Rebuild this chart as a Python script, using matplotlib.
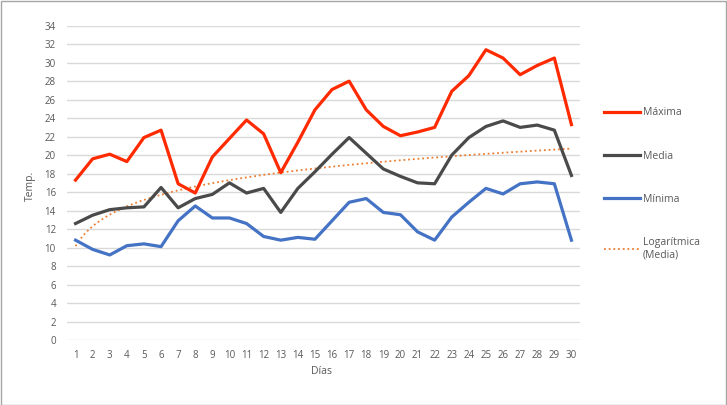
import numpy as np
import matplotlib
matplotlib.use("Agg")
import matplotlib.pyplot as plt
from matplotlib.patches import Rectangle

days = list(range(1, 31))
maxima = [17.3, 19.6, 20.1, 19.3, 21.9, 22.7, 16.9, 15.9, 19.8, 21.8,
          23.8, 22.3, 18.1, 21.4, 24.9, 27.1, 28.0, 24.9, 23.1, 22.1,
          22.5, 23.0, 26.9, 28.6, 31.4, 30.5, 28.7, 29.7, 30.5, 23.3]
media = [12.6, 13.5, 14.1, 14.3, 14.4, 16.5, 14.3, 15.3, 15.75, 17.0,
         15.9, 16.4, 13.8, 16.4, 18.2, 20.1, 21.9, 20.2, 18.5, 17.7,
         17.0, 16.9, 20.0, 21.9, 23.1, 23.7, 23.0, 23.25, 22.7, 17.8]
minima = [10.8, 9.8, 9.2, 10.2, 10.4, 10.1, 12.9, 14.5, 13.2, 13.2,
          12.6, 11.2, 10.8, 11.1, 10.9, 12.9, 14.9, 15.3, 13.8, 13.55,
          11.7, 10.8, 13.3, 14.9, 16.4, 15.8, 16.9, 17.1, 16.9, 10.8]
y_ticks = list(range(0, 35, 2))

plt.rcParams['font.family'] = ['Open Sans', 'DejaVu Sans']
txt = '#595959'

fig = plt.figure(figsize=(7.27, 4.05), dpi=100)
ax = fig.add_axes([67/727, 1-340/405, (580-67)/727, (340-25.7)/405])

x = np.array(days, dtype=float)
# logarithmic trendline fitted to Media
a, b = np.polyfit(np.log(x), np.array(media), 1)
xt = np.linspace(1, 30, 300)
trend = a*np.log(xt) + b

l1, = ax.plot(days, maxima, color='#FF2A00', lw=2.3, solid_joinstyle='round', label='Máxima', zorder=4)
l2, = ax.plot(days, media, color='#4A4A4A', lw=2.3, solid_joinstyle='round', label='Media', zorder=4)
l3, = ax.plot(days, minima, color='#4472C4', lw=2.3, solid_joinstyle='round', label='Mínima', zorder=4)
l4, = ax.plot(xt, trend, color='#ED7D31', lw=1.3, ls=(0, (1, 1.6)), label='Logarítmica\n(Media)', zorder=3)

ax.set_xlim(0.5, 30.5)
ax.set_ylim(0, 34)
ax.set_yticks(y_ticks)
ax.set_xticks(days)
ax.grid(axis='y', color='#D9D9D9', lw=1)
ax.set_axisbelow(True)
for s in ax.spines.values():
    s.set_visible(False)
ax.tick_params(axis='both', length=0, labelsize=7, labelcolor=txt)
ax.tick_params(axis='y', pad=8)
ax.tick_params(axis='x', pad=7)

fig.text(30/727, 1-186/405, 'Temp.', rotation=90, ha='center', va='center', fontsize=7.5, color=txt)
fig.text(322/727, 1-372/405, 'Días', ha='center', va='center', fontsize=7.5, color=txt)

leg = fig.legend(handles=[l1, l2, l3, l4], loc='upper left',
                 bbox_to_anchor=(595/727, 1-98/405), frameon=False,
                 fontsize=7.5, handlelength=3.4, handletextpad=0.3,
                 labelspacing=3.1, labelcolor=txt)

fig.patches.append(Rectangle((0.5/727, 0.5/405), 1-1.5/727, 1-1.5/405, transform=fig.transFigure,
                             fill=False, edgecolor='#A6A6A6', lw=1))

fig.savefig('out.png', dpi=100)
